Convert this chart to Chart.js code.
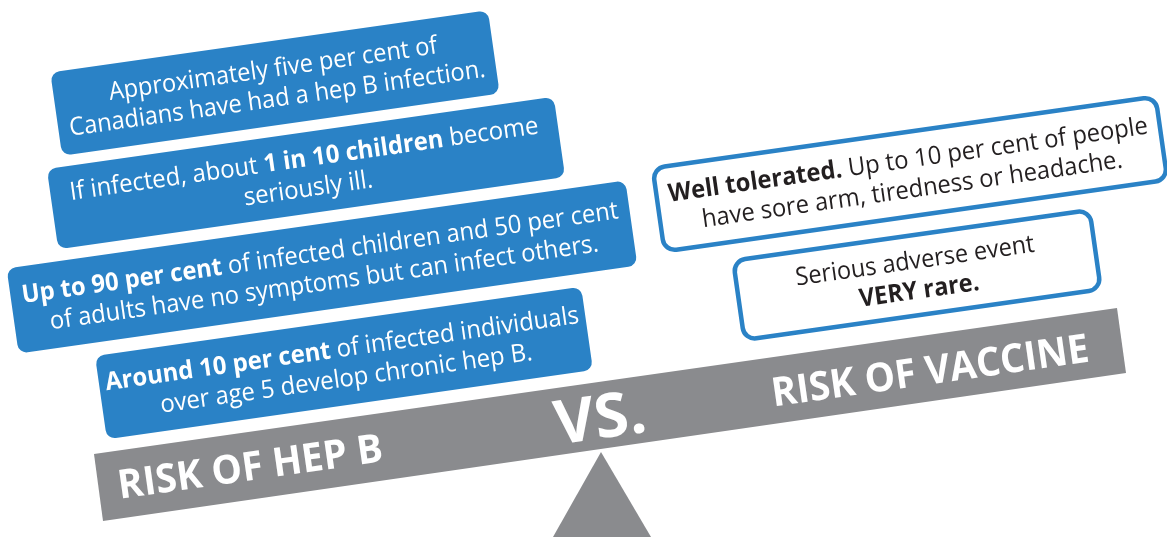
<!DOCTYPE html>
<html lang="en">
<head>
<meta charset="UTF-8">
<title>Risk of hep B vs. risk of vaccine</title>
<script src="https://cdn.jsdelivr.net/npm/chart.js"></script>
<style>
  html, body { margin: 0; padding: 0; background: #fff; }
  #wrap { width: 1167px; height: 537px; }
</style>
</head>
<body>
<div id="wrap"><canvas id="myChart"></canvas></div>
<script>
// texts of the seesaw, **...** marks bold runs
const hepBFacts = [
    ['Approximately five per cent of', 'Canadians have had a hep B infection.'],
    ['If infected, about **1 in 10 children** become', 'seriously ill.'],
    ['**Up to 90 per cent** of infected children and 50 per cent', 'of adults have no symptoms but can infect others.'],
    ['**Around 10 per cent** of infected individuals', 'over age 5 develop chronic hep B.']
];
const vaccineFacts = [
    ['**Well tolerated.** Up to 10 per cent of people', 'have sore arm, tiredness or headache.'],
    ['Serious adverse event', '**VERY rare.**']
];
const sideLabels = ['RISK OF HEP B', 'RISK OF VACCINE'];
const centreLabel = 'VS.';

// layout (chart units = pixels of the 1167x537 frame)
const tilt = -8.1 * Math.PI / 180;
const hepBBoxPos = [
    {cx: 275, cy: 83, w: 442, h: 84, textW: 420},
    {cx: 306, cy: 173, w: 512, h: 81, textW: 473},
    {cx: 322, cy: 267, w: 625, h: 86, textW: 602},
    {cx: 344, cy: 363, w: 491, h: 84, textW: 478}
];
const vaccineBoxPos = [
    {cx: 910, cy: 174, w: 508, h: 84, textW: 484},
    {cx: 917, cy: 275, w: 360, h: 80, textW: 241}
];
const labelPos = [
    {x: 252, y: 480, size: 40, textW: 267},
    {x: 932, y: 384, size: 40, textW: 320}
];
const vsPos = {x: 603, y: 438, size: 61, textW: 92};
const beamPts = [[94, 454], [1117, 308], [1126, 373], [103, 521]];
const fulcrumPts = [[601, 452], [651, 537], [553, 537]];

const blue = '#2a82c6';
const grey = '#8a8b8e';
const ink = '#231f20';
const fontSize = 25;
const linePitch = 30;

function parseRuns(str) {
    return str.split('**').map((t, i) => ({t: t, bold: i % 2 === 1})).filter(r => r.t.length);
}
function runFont(bold, size) {
    return (bold ? '700 ' : '400 ') + size + 'px "Open Sans"';
}
function lineWidth(ctx, runs, size) {
    let w = 0;
    runs.forEach(r => { ctx.font = runFont(r.bold, size); w += ctx.measureText(r.t).width; });
    return w;
}

function drawLines(ctx, lines, size, sx, color) {
    const list = lines.map(parseRuns);
    ctx.fillStyle = color;
    ctx.textBaseline = 'alphabetic';
    list.forEach((runs, i) => {
        let x = -lineWidth(ctx, runs, size) * sx / 2;
        const y = (i - (list.length - 1) / 2) * linePitch + size * 0.34;
        runs.forEach(r => {
            ctx.font = runFont(r.bold, size);
            ctx.save();
            ctx.translate(x, y);
            ctx.scale(sx, 1);
            ctx.fillText(r.t, 0, 0);
            ctx.restore();
            x += ctx.measureText(r.t).width * sx;
        });
    });
}

function drawBox(chart, pos, lines, style) {
    const ctx = chart.ctx, xs = chart.scales.x, ys = chart.scales.y;
    const cx = xs.getPixelForValue(pos.cx), cy = ys.getPixelForValue(pos.cy);
    const w = xs.getPixelForValue(pos.w) - xs.getPixelForValue(0);
    const h = ys.getPixelForValue(pos.h) - ys.getPixelForValue(0);
    ctx.save();
    ctx.translate(cx, cy);
    ctx.rotate(tilt);
    ctx.beginPath();
    ctx.roundRect(-w / 2, -h / 2, w, h, style.radius);
    if (style.fill) { ctx.fillStyle = style.fill; ctx.fill(); }
    if (style.stroke) { ctx.lineWidth = style.lineWidth; ctx.strokeStyle = style.stroke; ctx.stroke(); }
    const widest = Math.max(...lines.map(l => lineWidth(ctx, parseRuns(l), fontSize)));
    drawLines(ctx, lines, fontSize, pos.textW / widest, style.text);
    ctx.restore();
}

function drawLabel(chart, pos, text) {
    const ctx = chart.ctx, xs = chart.scales.x, ys = chart.scales.y;
    ctx.save();
    ctx.translate(xs.getPixelForValue(pos.x), ys.getPixelForValue(pos.y));
    ctx.rotate(tilt);
    ctx.font = runFont(true, pos.size);
    const sx = pos.textW / ctx.measureText(text).width;
    ctx.scale(sx, 1);
    ctx.fillStyle = '#fff';
    ctx.textAlign = 'center';
    ctx.textBaseline = 'alphabetic';
    ctx.fillText(text, 0, 0);
    ctx.restore();
}

function drawPoly(chart, pts, color) {
    const ctx = chart.ctx, xs = chart.scales.x, ys = chart.scales.y;
    ctx.beginPath();
    pts.forEach((p, i) => {
        const px = xs.getPixelForValue(p[0]), py = ys.getPixelForValue(p[1]);
        if (i === 0) ctx.moveTo(px, py); else ctx.lineTo(px, py);
    });
    ctx.closePath();
    ctx.fillStyle = color;
    ctx.fill();
}

const seesaw = {
    id: 'seesaw',
    afterDraw(chart) {
        drawPoly(chart, fulcrumPts, grey);
        drawPoly(chart, beamPts, grey);
        drawLabel(chart, labelPos[0], sideLabels[0]);
        drawLabel(chart, labelPos[1], sideLabels[1]);
        drawLabel(chart, vsPos, centreLabel);
        hepBFacts.forEach((lines, i) => drawBox(chart, hepBBoxPos[i], lines, {fill: blue, radius: 9, text: '#fff'}));
        vaccineFacts.forEach((lines, i) => drawBox(chart, vaccineBoxPos[i], lines, {fill: '#fff', stroke: blue, lineWidth: 4.5, radius: 12, text: ink}));
    }
};

new Chart(document.getElementById('myChart'), {
    type: 'scatter',
    data: {datasets: []},
    options: {
        responsive: true,
        maintainAspectRatio: false,
        devicePixelRatio: 1,
        animation: false,
        layout: {padding: 0},
        scales: {
            x: {display: false, min: 0, max: 1167},
            y: {display: false, min: 0, max: 537, reverse: true}
        },
        plugins: {legend: {display: false}, tooltip: {enabled: false}}
    },
    plugins: [seesaw]
});
</script>
</body>
</html>
